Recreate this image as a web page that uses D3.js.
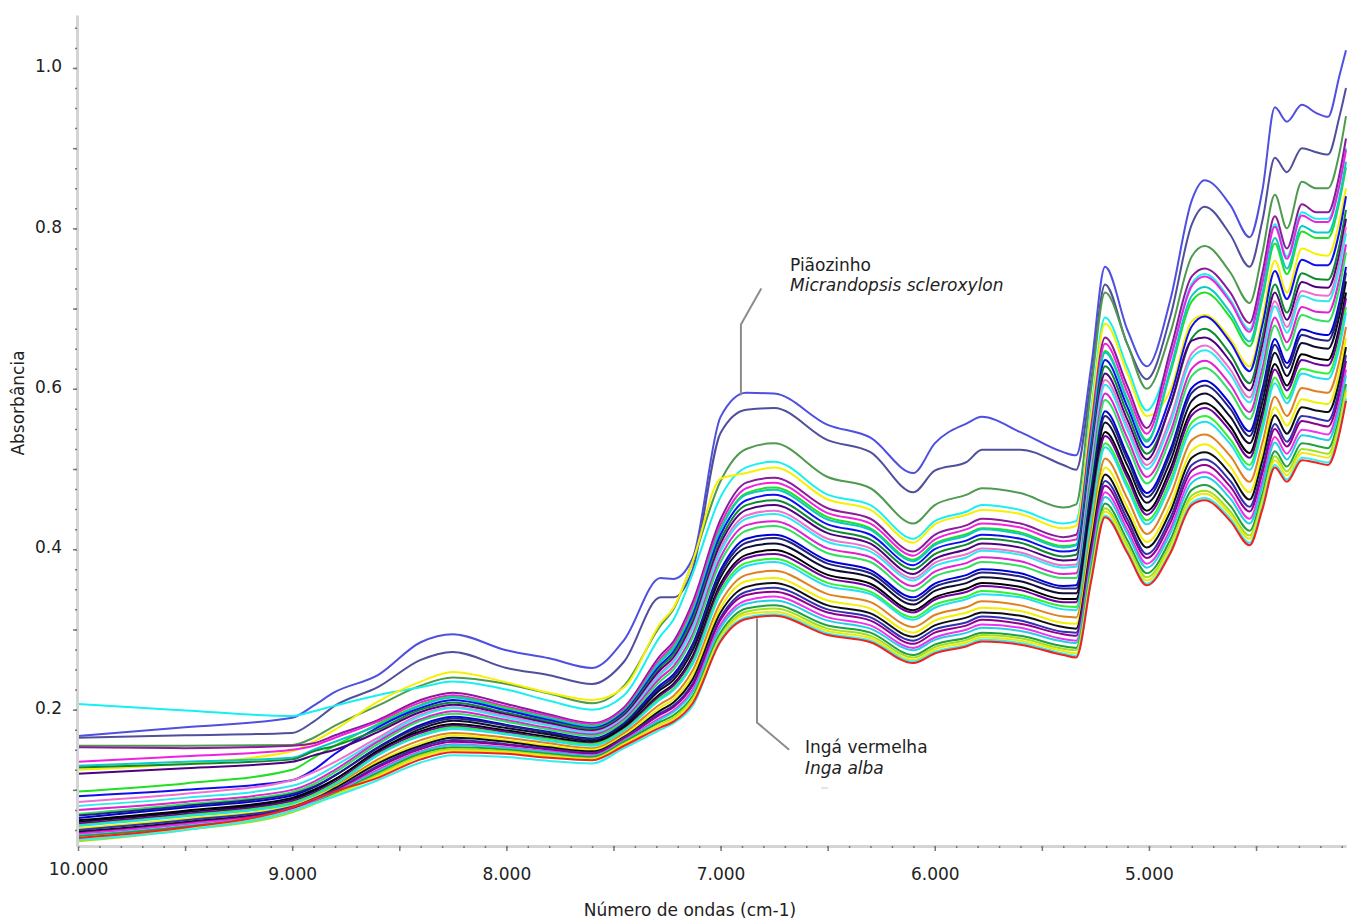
<!DOCTYPE html>
<html>
<head>
  <meta charset="utf-8">
  <script src="https://d3js.org/d3.v7.min.js"></script>
  <style type="text/css">
body{ margin:0; background:#fff; }
svg{ display:block; }
text{ font-family:"DejaVu Sans",sans-serif; fill:#222; }
.axis path{ stroke:#d4d4d4; stroke-width:3; fill:none; }
.axis line{ stroke:#777; stroke-width:1.5; }
.axis text{ font-size:17px; font-family:"DejaVu Sans",sans-serif; fill:#222; }
.spectrum{ fill:none; stroke-width:2; stroke-linejoin:round; }
.leader{ fill:none; stroke:#8c8c8c; stroke-width:2; }
.note{ font-size:17px; }
  </style>
</head>
<body>
<script type="text/javascript">
var wavenumbers = [10000,9500,9000,8900,8800,8600,8400,8250,8000,7800,7600,7450,7280,7220,7130,7000,6880,6750,6500,6300,6100,6000,5850,5780,5600,5400,5340,5270,5205,5100,5010,4900,4800,4740,4620,4530,4470,4412,4356,4286,4220,4164,4110,4080];

var piaozinho = [.167,.178,.19,.205,.222,.243,.284,.294,.274,.264,.252,.287,.364,.363,.389,.565,.595,.594,.555,.539,.495,.532,.557,.565,.546,.521,.517,.627,.752,.673,.628,.711,.835,.86,.829,.789,.848,.951,.933,.954,.944,.939,.991,1.022];
var s02 = [.165,.168,.171,.185,.205,.228,.262,.272,.252,.243,.232,.26,.34,.34,.375,.545,.574,.576,.536,.521,.471,.498,.509,.524,.524,.505,.499,.61,.73,.655,.612,.69,.805,.827,.792,.752,.81,.888,.87,.9,.895,.892,.94,.975];
var s03 = [.155,.155,.156,.165,.18,.205,.23,.24,.232,.22,.208,.23,.305,.325,.385,.485,.525,.532,.49,.476,.432,.455,.468,.476,.47,.452,.456,.6,.72,.655,.6,.67,.765,.778,.745,.707,.77,.842,.8,.858,.85,.85,.895,.94];
var s04 = [.207,.199,.192,.198,.205,.218,.228,.235,.225,.211,.2,.218,.292,.312,.37,.465,.502,.509,.468,.455,.413,.435,.447,.455,.449,.432,.435,.574,.689,.626,.573,.64,.731,.743,.711,.674,.735,.805,.765,.82,.812,.812,.856,.9];
var s05 = [.125,.133,.148,.16,.175,.21,.235,.247,.234,.221,.212,.228,.308,.327,.385,.488,.495,.502,.462,.449,.408,.431,.443,.449,.444,.426,.429,.567,.681,.619,.566,.598,.684,.692,.662,.628,.688,.76,.72,.775,.768,.766,.81,.85];
var s06 = [.153,.152,.155,.158,.168,.187,.212,.221,.207,.194,.183,.203,.268,.285,.334,.437,.483,.489,.451,.438,.397,.418,.43,.438,.432,.415,.418,.552,.664,.603,.551,.648,.74,.75,.72,.682,.745,.815,.775,.83,.82,.82,.868,.912];
var s07 = [.135,.142,.15,.155,.165,.185,.209,.218,.204,.192,.182,.201,.264,.281,.329,.431,.476,.483,.445,.432,.392,.412,.425,.432,.427,.41,.412,.545,.656,.595,.544,.637,.728,.74,.708,.671,.732,.802,.762,.816,.808,.808,.855,.898];
var s08 = [.098,.108,.125,.14,.155,.182,.206,.216,.202,.19,.18,.199,.261,.278,.324,.426,.47,.477,.44,.426,.387,.407,.419,.426,.421,.404,.406,.537,.647,.587,.536,.62,.709,.72,.689,.653,.713,.781,.743,.796,.788,.788,.834,.876];
var s09 = [.13,.135,.14,.15,.16,.18,.205,.215,.2,.189,.179,.198,.26,.276,.322,.424,.468,.474,.437,.424,.385,.405,.417,.425,.419,.402,.405,.535,.645,.585,.534,.625,.716,.727,.695,.659,.72,.788,.75,.803,.795,.795,.84,.883];
var s10 = [.092,.1,.112,.125,.145,.178,.202,.212,.199,.187,.177,.197,.256,.272,.318,.418,.461,.468,.431,.418,.38,.4,.411,.418,.413,.397,.399,.528,.636,.577,.527,.59,.678,.69,.658,.622,.68,.747,.712,.761,.754,.754,.797,.84];
var s11 = [.128,.132,.138,.148,.155,.175,.2,.209,.196,.185,.176,.195,.253,.269,.313,.412,.455,.461,.425,.412,.375,.394,.406,.413,.408,.391,.393,.521,.628,.569,.519,.579,.663,.675,.643,.607,.665,.73,.695,.744,.737,.736,.78,.823];
var s12 = [.12,.127,.135,.143,.15,.172,.197,.206,.194,.183,.174,.193,.25,.265,.308,.407,.449,.455,.42,.407,.369,.388,.4,.407,.402,.386,.387,.514,.619,.561,.512,.58,.66,.664,.634,.598,.655,.72,.686,.733,.727,.726,.769,.812];
var s13 = [.085,.095,.112,.122,.135,.165,.194,.203,.192,.181,.172,.191,.246,.261,.304,.401,.442,.448,.413,.401,.364,.383,.394,.401,.396,.38,.381,.506,.611,.554,.505,.563,.644,.654,.624,.589,.645,.709,.677,.722,.717,.716,.759,.802];
var s14 = [.08,.09,.105,.115,.13,.162,.192,.202,.19,.18,.171,.19,.244,.259,.301,.397,.438,.444,.409,.397,.361,.379,.39,.398,.393,.377,.378,.502,.605,.548,.5,.557,.638,.648,.618,.583,.639,.703,.67,.716,.71,.709,.752,.794];
var s15 = [.075,.085,.1,.11,.125,.16,.188,.198,.187,.177,.169,.188,.24,.254,.294,.39,.43,.435,.401,.39,.354,.372,.383,.39,.385,.369,.37,.492,.594,.538,.49,.546,.625,.635,.605,.571,.626,.689,.658,.702,.696,.695,.738,.78];
var s16 = [.07,.082,.097,.107,.122,.157,.186,.195,.185,.175,.167,.186,.236,.25,.29,.384,.423,.429,.395,.384,.348,.366,.377,.384,.379,.364,.364,.485,.586,.53,.482,.538,.616,.626,.596,.562,.617,.679,.648,.692,.686,.684,.727,.77];
var s17 = [.065,.078,.093,.103,.118,.153,.181,.191,.181,.172,.164,.183,.231,.244,.282,.374,.413,.418,.386,.374,.34,.357,.368,.375,.37,.354,.355,.473,.572,.517,.47,.524,.601,.61,.581,.547,.6,.662,.632,.674,.669,.667,.709,.752];
var s18 = [.068,.08,.095,.104,.118,.152,.179,.189,.18,.171,.163,.182,.228,.241,.279,.37,.408,.414,.382,.37,.336,.353,.364,.371,.366,.351,.351,.468,.566,.512,.465,.519,.595,.604,.575,.541,.594,.655,.626,.667,.662,.66,.702,.745];
var s19 = [.06,.072,.088,.098,.113,.148,.176,.186,.177,.169,.161,.18,.225,.237,.274,.365,.402,.407,.376,.365,.331,.348,.358,.365,.36,.345,.345,.461,.558,.504,.458,.51,.585,.594,.565,.532,.584,.645,.616,.657,.652,.65,.692,.734];
var s20 = [.062,.074,.09,.1,.113,.149,.173,.182,.174,.166,.159,.178,.22,.232,.267,.357,.393,.399,.368,.357,.324,.34,.351,.358,.353,.338,.338,.451,.546,.494,.448,.5,.573,.582,.553,.52,.572,.631,.604,.643,.638,.636,.678,.72];
var s21 = [.058,.07,.086,.096,.11,.146,.171,.18,.172,.164,.158,.176,.218,.23,.264,.353,.389,.394,.364,.353,.321,.337,.347,.354,.349,.334,.334,.446,.541,.489,.443,.494,.567,.576,.547,.514,.565,.624,.598,.636,.631,.629,.671,.713];
var s22 = [.056,.068,.084,.094,.108,.144,.168,.178,.17,.163,.157,.175,.215,.226,.26,.348,.383,.388,.358,.347,.315,.331,.341,.348,.343,.329,.328,.439,.532,.481,.436,.486,.558,.566,.537,.505,.556,.614,.588,.625,.621,.619,.661,.702];
var s23 = [.055,.067,.082,.092,.106,.143,.167,.176,.169,.161,.155,.174,.213,.224,.257,.344,.379,.384,.354,.344,.312,.327,.338,.344,.34,.325,.324,.434,.527,.476,.431,.48,.551,.559,.531,.499,.549,.607,.582,.619,.614,.612,.653,.695];
var s24 = [.05,.063,.08,.09,.104,.138,.162,.171,.165,.158,.152,.171,.207,.217,.249,.334,.368,.373,.344,.334,.303,.318,.328,.335,.33,.316,.315,.422,.513,.463,.419,.467,.536,.543,.516,.484,.533,.59,.566,.601,.597,.595,.636,.677];
var s25 = [.052,.064,.08,.09,.103,.135,.158,.168,.162,.155,.15,.168,.203,.213,.243,.327,.36,.364,.336,.326,.296,.311,.321,.327,.323,.308,.307,.413,.502,.452,.409,.455,.523,.531,.503,.471,.52,.577,.554,.587,.583,.581,.622,.663];
var s26 = [.048,.06,.078,.088,.102,.133,.155,.165,.16,.153,.148,.166,.199,.209,.238,.321,.353,.358,.33,.32,.291,.305,.315,.321,.317,.303,.301,.406,.493,.444,.402,.447,.514,.521,.494,.462,.511,.567,.544,.577,.573,.571,.611,.652];
var s27 = [.05,.062,.079,.089,.1,.13,.153,.162,.157,.151,.146,.165,.196,.205,.233,.315,.347,.352,.325,.315,.286,.3,.309,.316,.311,.297,.296,.398,.485,.437,.394,.439,.505,.512,.485,.453,.501,.556,.534,.566,.563,.56,.601,.642];
var s28 = [.046,.058,.077,.086,.098,.128,.151,.16,.156,.15,.145,.164,.194,.203,.23,.312,.343,.347,.321,.311,.282,.296,.305,.312,.307,.294,.292,.394,.479,.431,.389,.433,.498,.505,.478,.447,.495,.55,.528,.56,.556,.553,.594,.635];
var s29 = [.045,.057,.075,.085,.097,.125,.148,.157,.153,.148,.143,.162,.19,.199,.225,.306,.336,.341,.315,.305,.277,.29,.3,.306,.302,.288,.286,.386,.471,.424,.382,.425,.49,.496,.47,.438,.485,.54,.519,.549,.546,.543,.584,.624];
var s30 = [.043,.055,.074,.084,.096,.123,.147,.156,.152,.147,.142,.161,.188,.197,.222,.302,.332,.336,.311,.301,.274,.287,.296,.302,.298,.285,.283,.382,.465,.419,.377,.42,.483,.49,.463,.432,.479,.533,.512,.542,.539,.536,.577,.617];
var s31 = [.042,.054,.073,.083,.095,.121,.145,.153,.15,.145,.141,.16,.185,.193,.217,.296,.326,.33,.305,.296,.268,.281,.29,.296,.292,.279,.277,.375,.457,.411,.37,.412,.474,.48,.454,.423,.469,.522,.503,.532,.529,.526,.566,.606];
var s32 = [.036,.05,.072,.082,.094,.119,.143,.151,.148,.143,.139,.158,.182,.19,.214,.292,.322,.326,.301,.292,.265,.278,.287,.293,.289,.276,.274,.37,.451,.405,.365,.406,.467,.473,.447,.417,.463,.516,.497,.525,.522,.519,.56,.6];
var s33 = [.04,.052,.074,.083,.093,.117,.141,.149,.147,.142,.138,.157,.181,.188,.212,.29,.319,.322,.298,.289,.262,.275,.284,.29,.286,.273,.27,.366,.447,.401,.361,.402,.463,.469,.443,.413,.459,.511,.492,.52,.517,.514,.554,.594];
var s34 = [.038,.05,.074,.083,.092,.112,.134,.143,.141,.136,.133,.152,.175,.183,.205,.287,.315,.319,.295,.286,.26,.272,.281,.287,.283,.27,.267,.362,.442,.397,.357,.397,.458,.464,.438,.408,.453,.505,.487,.514,.511,.508,.548,.588];
var ingaVermelha = [.04,.053,.078,.088,.098,.115,.138,.147,.145,.14,.137,.155,.178,.185,.208,.285,.313,.317,.293,.284,.258,.27,.279,.285,.281,.268,.265,.36,.44,.395,.355,.395,.455,.461,.435,.405,.45,.502,.484,.511,.508,.505,.545,.585];

var spectra = [piaozinho,s02,s03,s04,s05,s06,s07,s08,s09,s10,s11,s12,s13,s14,s15,s16,s17,s18,s19,s20,s21,s22,s23,s24,s25,s26,s27,s28,s29,s30,s31,s32,s33,s34,ingaVermelha];
var colors = ["#4f4fe0","#4f4f9c","#4f9a4f","#19f0f0","#f7f000","#8a1a9a","#f020e0","#20e020","#10c8c8","#1010f0","#108a30","#500080","#f070d0","#30e8f0","#e020d0","#30e060","#0000d8","#202080","#101030","#000000","#7000a0","#30f030","#20e0f0","#e08020","#f0f000","#101018","#3030b0","#900090","#f030f0","#20d0e0","#20a040","#a0e020","#f0e810","#30f0f0","#f02020"];

var yMajor = [0.2,0.4,0.6,0.8,1.0];
var yTenths = [0.1,0.3,0.5,0.7,0.9];
var xMajor = [10000,9000,8000,7000,6000,5000];
var xHalf = [9500,8500,7500,6500,5500,4500];

var width = 1353, height = 920;
var svg = d3.select("body").append("svg").attr("width", width).attr("height", height);

var x = d3.scaleLinear().domain([10000,4080]).range([78,1346]);
var y = d3.scaleLinear().domain([0.03,1.066]).range([846,15]);

// the source image is a soft screenshot, so the traces get a small blur
var defs = svg.append("defs");
defs.append("filter").attr("id","soft").append("feGaussianBlur").attr("stdDeviation",0.5);

var line = d3.line()
  .x(function(d,i){ return x(wavenumbers[i]); })
  .y(function(d){ return y(d); })
  .curve(d3.curveMonotoneX);

svg.append("g").attr("filter","url(#soft)")
  .selectAll("path").data(spectra).enter().append("path")
  .attr("class","spectrum")
  .attr("d", line)
  .style("stroke", function(d,i){ return colors[i]; });

var ptBR = d3.formatLocale({decimal:",",thousands:".",grouping:[3],currency:["",""]});

var minorX = d3.range(4100,10001,100);
var minorY = d3.range(0.05,1.06,0.025);

var xg = svg.append("g").attr("class","axis").attr("transform","translate(0,846)");
xg.call(d3.axisBottom(x).tickValues(minorX).tickSize(2).tickSizeOuter(0).tickFormat(""));
svg.append("g").attr("class","axis").attr("transform","translate(0,846)")
  .call(d3.axisBottom(x).tickValues(xHalf).tickSize(5).tickFormat(""))
  .select(".domain").remove();
var xl = svg.append("g").attr("class","axis").attr("transform","translate(0,846)")
  .call(d3.axisBottom(x).tickValues(xMajor).tickSize(5).tickPadding(17).tickFormat(ptBR.format(",")));
xl.select(".domain").remove();
xl.selectAll("text").attr("dy", function(d){ return d===10000 ? "0.42em" : "0.71em"; });

var yg = svg.append("g").attr("class","axis").attr("transform","translate(77,0)");
yg.call(d3.axisLeft(y).tickValues(minorY).tickSize(2).tickSizeOuter(0).tickFormat(""));
svg.append("g").attr("class","axis").attr("transform","translate(77,0)")
  .call(d3.axisLeft(y).tickValues(yTenths).tickSize(4).tickFormat(""))
  .select(".domain").remove();
var yl = svg.append("g").attr("class","axis").attr("transform","translate(77,0)")
  .call(d3.axisLeft(y).tickValues(yMajor).tickSize(4).tickPadding(11).tickFormat(d3.format(".1f")));
yl.select(".domain").remove();
yl.selectAll("text").attr("dy","0.22em");

svg.append("text")
  .attr("transform","translate(24,403) rotate(-90)")
  .attr("text-anchor","middle")
  .style("font-size","17px")
  .text("Absorbância");

svg.append("text")
  .attr("x",690).attr("y",916)
  .attr("text-anchor","middle")
  .style("font-size","17px")
  .text("Número de ondas (cm-1)");

// leader lines for the two named species
var leaderTop = [[6905,.592],[6905,.68],[6810,.725]];
var leaderBottom = [[6830,.314],[6830,.184],[6680,.15]];
var leader = d3.line().x(function(d){ return x(d[0]); }).y(function(d){ return y(d[1]); });
svg.append("path").attr("class","leader").attr("d",leader(leaderTop));
svg.append("path").attr("class","leader").attr("d",leader(leaderBottom));

svg.append("text").attr("class","note").attr("x",790).attr("y",271).text("Piãozinho");
svg.append("text").attr("class","note").attr("x",790).attr("y",291).style("font-style","italic").text("Micrandopsis scleroxylon");
svg.append("text").attr("class","note").attr("x",805).attr("y",753).text("Ingá vermelha");
svg.append("text").attr("class","note").attr("x",805).attr("y",774).style("font-style","italic").text("Inga alba");
svg.append("line").attr("x1",821).attr("x2",828).attr("y1",788).attr("y2",788).style("stroke","#ccc").style("stroke-width",1);
</script>
</body>
</html>
